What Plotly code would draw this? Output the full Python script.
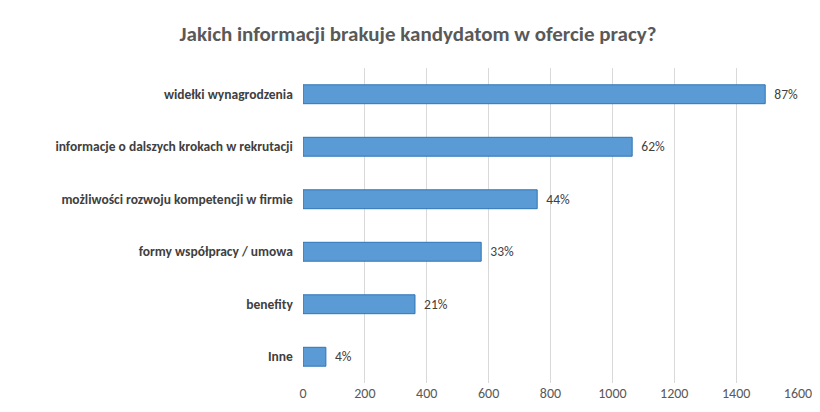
import plotly.graph_objects as go

categories = ["widełki wynagrodzenia", "informacje o dalszych krokach w rekrutacji",
              "możliwości rozwoju kompetencji w firmie", "formy współpracy / umowa",
              "benefity", "Inne"]
values = [1494, 1064, 757, 576, 362, 74]
labels = ["87%", "62%", "44%", "33%", "21%", "4%"]
tickvals = [0, 200, 400, 600, 800, 1000, 1200, 1400, 1600]

FONT = "Calibri, Carlito, Lato, Liberation Sans, sans-serif"
fig = go.Figure(go.Bar(
    y=categories[::-1], x=values[::-1], orientation="h",
    text=["  " + l for l in labels[::-1]], textposition="outside", cliponaxis=False,
    textfont=dict(size=13.5, color="#404040", family=FONT),
    marker=dict(color="#5B9BD5", line=dict(color="#2E75B6", width=1)),
    width=0.36,
))
fig.update_layout(
    width=820, height=412, paper_bgcolor="white", plot_bgcolor="white",
    margin=dict(l=295, r=30, t=60, b=37),
    title=dict(text="<b>Jakich informacji brakuje kandydatom w ofercie pracy?</b>",
               x=0.5, xanchor="center", y=0.955,
               font=dict(size=21, color="#595959", family=FONT)),
    xaxis=dict(range=[0, 1600], tickvals=tickvals, showgrid=True, gridcolor="#D9D9D9",
               zeroline=False, showline=False, automargin=False,
               tickfont=dict(size=14, color="#595959", family=FONT)),
    yaxis=dict(tickfont=dict(size=13.5, color="#404040", family=FONT),
               showline=False, automargin=False),
    showlegend=False, bargap=0.64,
)
fig.update_yaxes(tickprefix="<b>", ticksuffix="</b>   ")
fig.write_html("out.html")
